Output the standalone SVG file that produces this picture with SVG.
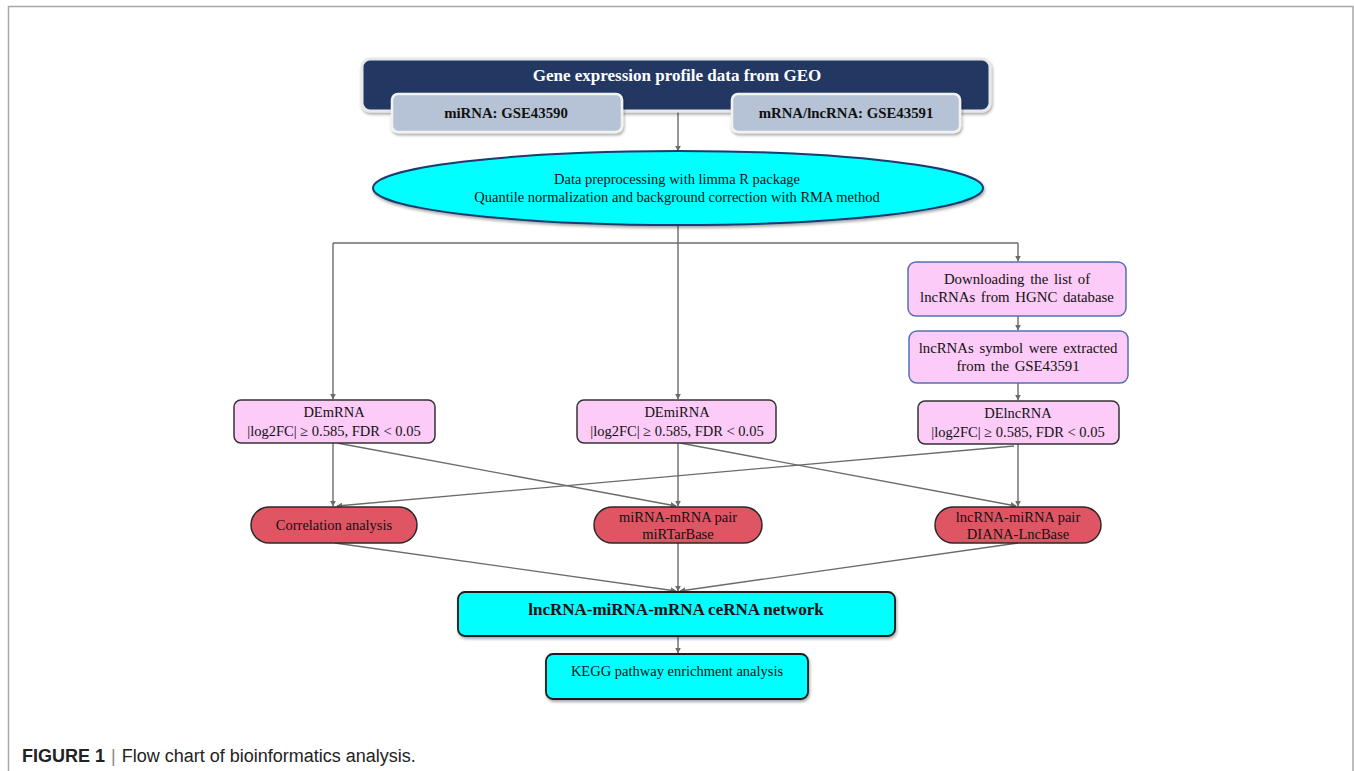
<svg xmlns="http://www.w3.org/2000/svg" width="1354" height="771" viewBox="0 0 1354 771">
<style>
.serif{font-family:"Liberation Serif","Times New Roman",serif;fill:#111;}
.t14{font-size:14.5px;}
.b{font-weight:bold;}
.conn{stroke:#6b6b6b;stroke-width:1.4;fill:none;marker-end:url(#arr);}
.pinkB{fill:#fccbf7;stroke:#5570b0;stroke-width:1.5;}
.pinkD{fill:#fccbf7;stroke:#333;stroke-width:1.5;}
.red{fill:#e05563;stroke:#2a2a2a;stroke-width:1.5;}
.cyan{fill:#00ffff;stroke:#1a1a1a;stroke-width:1.8;}
.sub{fill:#b6c2d5;stroke:#f2f2f2;stroke-width:2.5;}
</style>
<defs>
<marker id="arr" viewBox="0 0 10 10" refX="9" refY="5" markerWidth="6" markerHeight="6" orient="auto" markerUnits="userSpaceOnUse">
<path d="M0,0 L10,5 L0,10 z" fill="#6b6b6b"/>
</marker>
<filter id="sh" x="-10%" y="-20%" width="120%" height="150%">
<feDropShadow dx="1" dy="2" stdDeviation="1.5" flood-color="#000" flood-opacity="0.35"/>
</filter>
</defs>
<rect x="0" y="0" width="1354" height="771" fill="#fff"/>
<path d="M8.5,775 L8.5,6.5 L1353,6.5 L1353,775" fill="none" stroke="#a8a8a8" stroke-width="1.5"/>

<g id="connectors">
<line class="conn" x1="678" y1="112" x2="678" y2="151"/>
<line x1="678" y1="225" x2="678" y2="243" stroke="#6b6b6b" stroke-width="1.4"/>
<line x1="333" y1="243" x2="1018" y2="243" stroke="#6b6b6b" stroke-width="1.4"/>
<line class="conn" x1="333" y1="243" x2="333" y2="399"/>
<line class="conn" x1="678" y1="243" x2="678" y2="399"/>
<line class="conn" x1="1018" y1="243" x2="1018" y2="261"/>
<line class="conn" x1="1018" y1="316" x2="1018" y2="330"/>
<line class="conn" x1="1018" y1="383" x2="1018" y2="400"/>
<line class="conn" x1="333" y1="443" x2="333" y2="506"/>
<line class="conn" x1="337" y1="443" x2="676" y2="506"/>
<line class="conn" x1="678" y1="443" x2="678" y2="506"/>
<line class="conn" x1="680" y1="443" x2="1016" y2="506"/>
<line class="conn" x1="1018" y1="444" x2="1018" y2="506"/>
<line class="conn" x1="1014" y1="446" x2="337" y2="506"/>
<line class="conn" x1="335" y1="543" x2="676" y2="591"/>
<line class="conn" x1="678" y1="543" x2="678" y2="591"/>
<line class="conn" x1="1018" y1="543" x2="680" y2="591"/>
<line class="conn" x1="678" y1="637" x2="678" y2="653"/>
</g>

<g id="geo">
<rect x="362" y="59" width="628" height="52" rx="8" fill="#203864" stroke="#e8e8e8" stroke-width="3" filter="url(#sh)"/>
<text x="677" y="81" text-anchor="middle" class="serif b" style="font-size:17px;fill:#fff">Gene expression profile data from GEO</text>
</g>
<g id="mirna-gse">
<rect class="sub" x="392" y="94" width="230" height="38" rx="6" filter="url(#sh)"/>
<text x="506" y="118" text-anchor="middle" class="serif b" style="font-size:14.8px">miRNA: GSE43590</text>
</g>
<g id="mrna-gse">
<rect class="sub" x="732" y="94" width="228" height="38" rx="6" filter="url(#sh)"/>
<text x="846" y="118" text-anchor="middle" class="serif b" style="font-size:14.8px">mRNA/lncRNA: GSE43591</text>
</g>

<g id="preprocess">
<ellipse cx="678" cy="188" rx="305" ry="37" fill="#00ffff" stroke="#1f3a6e" stroke-width="2" filter="url(#sh)"/>
<text x="677" y="184" text-anchor="middle" class="serif t14">Data preprocessing with limma R package</text>
<text x="677" y="202" text-anchor="middle" class="serif t14">Quantile normalization and background correction with RMA method</text>
</g>

<g id="download">
<rect class="pinkB" x="908" y="262" width="218" height="54" rx="8"/>
<text x="1017" y="284" text-anchor="middle" class="serif" style="font-size:14.8px;word-spacing:2px">Downloading the list of</text>
<text x="1017" y="302" text-anchor="middle" class="serif" style="font-size:14.8px;word-spacing:2px">lncRNAs from HGNC database</text>
</g>
<g id="extract">
<rect class="pinkB" x="909" y="331" width="219" height="52" rx="8"/>
<text x="1018" y="353" text-anchor="middle" class="serif" style="font-size:14.8px;word-spacing:2px">lncRNAs symbol were extracted</text>
<text x="1018" y="371" text-anchor="middle" class="serif" style="font-size:14.8px;word-spacing:2px">from the GSE43591</text>
</g>

<g id="demrna">
<rect class="pinkD" x="234" y="400" width="201" height="43" rx="7"/>
<text x="334" y="417" text-anchor="middle" class="serif t14">DEmRNA</text>
<text x="334" y="436" text-anchor="middle" class="serif t14">|log2FC| ≥ 0.585, FDR &lt; 0.05</text>
</g>
<g id="demirna">
<rect class="pinkD" x="577" y="400" width="199" height="43" rx="7"/>
<text x="677" y="417" text-anchor="middle" class="serif t14">DEmiRNA</text>
<text x="677" y="436" text-anchor="middle" class="serif t14">|log2FC| ≥ 0.585, FDR &lt; 0.05</text>
</g>
<g id="delncrna">
<rect class="pinkD" x="918" y="401" width="201" height="43" rx="7"/>
<text x="1018" y="418" text-anchor="middle" class="serif t14">DElncRNA</text>
<text x="1018" y="437" text-anchor="middle" class="serif t14">|log2FC| ≥ 0.585, FDR &lt; 0.05</text>
</g>

<g id="correlation">
<rect class="red" x="251" y="507" width="166" height="36" rx="18"/>
<text x="334" y="530" text-anchor="middle" class="serif t14">Correlation analysis</text>
</g>
<g id="mirna-mrna">
<rect class="red" x="594" y="507" width="168" height="36" rx="18"/>
<text x="678" y="522" text-anchor="middle" class="serif t14">miRNA-mRNA pair</text>
<text x="678" y="539" text-anchor="middle" class="serif t14">miRTarBase</text>
</g>
<g id="lncrna-mirna">
<rect class="red" x="935" y="507" width="166" height="36" rx="18"/>
<text x="1018" y="522" text-anchor="middle" class="serif t14">lncRNA-miRNA pair</text>
<text x="1018" y="539" text-anchor="middle" class="serif t14">DIANA-LncBase</text>
</g>

<g id="cerna">
<rect class="cyan" x="458" y="592" width="437" height="44" rx="7" filter="url(#sh)"/>
<text x="676" y="615" text-anchor="middle" class="serif b" style="font-size:17px">lncRNA-miRNA-mRNA ceRNA network</text>
</g>
<g id="kegg">
<rect class="cyan" x="546" y="654" width="262" height="45" rx="7" filter="url(#sh)"/>
<text x="677" y="676" text-anchor="middle" class="serif t14">KEGG pathway enrichment analysis</text>
</g>

<g id="caption">
<text x="22" y="762" style="font-family:'Liberation Sans',Arial,sans-serif;font-size:18px;fill:#222"><tspan font-weight="bold">FIGURE 1</tspan><tspan fill="#888" dx="6">|</tspan><tspan dx="6">Flow chart of bioinformatics analysis.</tspan></text>
</g>
</svg>
